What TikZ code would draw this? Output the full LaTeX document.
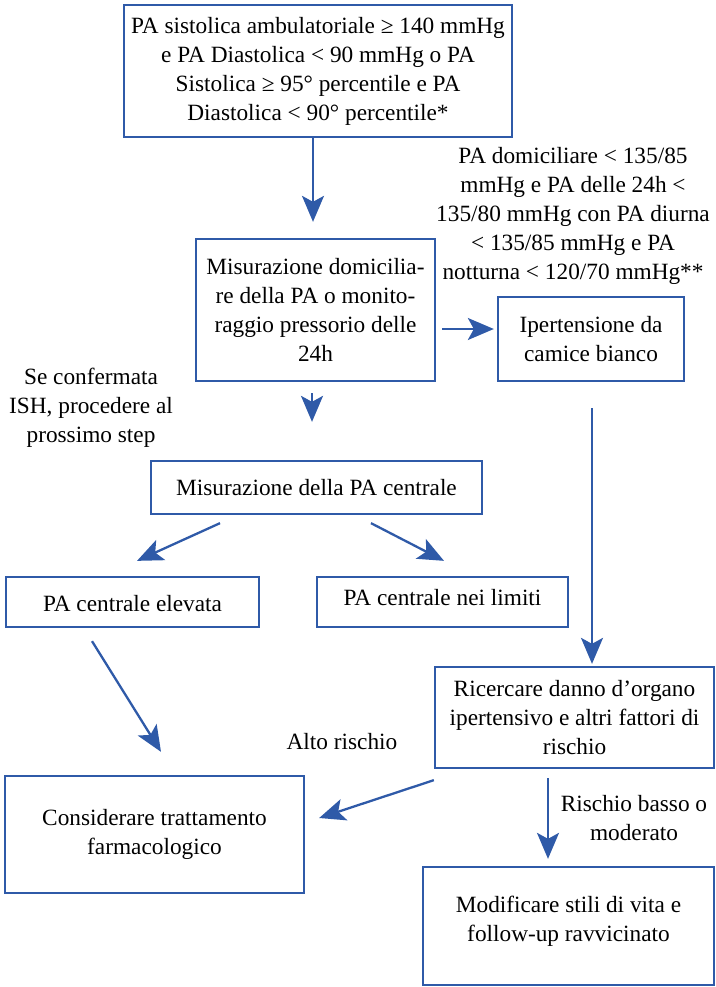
\documentclass[tikz,border=0pt]{standalone}
\usepackage{fontspec}
\setmainfont{Liberation Serif}
\usetikzlibrary{arrows.meta}
\definecolor{fcblue}{RGB}{47,90,168}
\begin{document}
\begin{tikzpicture}[x=1pt,y=-1pt,
  txt/.style={align=center,inner sep=0pt,font=\fontsize{23.3}{29}\selectfont,text=black},
  box/.style={draw=fcblue,line width=2.3pt,rectangle,inner sep=0pt,align=center,font=\fontsize{23.3}{29}\selectfont},
  arr/.style={draw=fcblue,line width=2.3pt,-{Stealth[length=26pt 0,width=22pt 0,inset=6pt 0]}}]
\useasboundingbox (0,0) rectangle (715,987);
% boxes
\node[box,minimum width=388,minimum height=132] (top) at (318,71)
  {PA sistolica ambulatoriale ≥ 140 mmHg\\e PA Diastolica < 90 mmHg o PA\\Sistolica ≥ 95° percentile e PA\\Diastolica < 90° percentile*};
\node[box,minimum width=239,minimum height=142] (mis) at (315.5,310)
  {Misurazione domicilia-\\re della PA o monito-\\raggio pressorio delle\\24h};
\node[box,minimum width=186,minimum height=84] (ipert) at (591,339)
  {Ipertensione da\\camice bianco};
\node[box,minimum width=331,minimum height=53] (misc) at (316.5,487.5)
  {Misurazione della PA centrale};
\node[box,minimum width=253,minimum height=50] (elev) at (132.5,602) {};
\node[txt] (elev-t) at (132.5,604) {PA centrale elevata};
\node[box,minimum width=251,minimum height=50] (lim) at (442.5,602) {};
\node[txt] (lim-t) at (442.5,598) {PA centrale nei limiti};
\node[box,minimum width=279,minimum height=101] (ric) at (574.5,717.5)
  {Ricercare danno d’organo\\ipertensivo e altri fattori di\\rischio};
\node[box,minimum width=299,minimum height=117] (cons) at (154.5,834.5)
  {Considerare trattamento\\farmacologico};
\node[box,minimum width=291,minimum height=118] (mod) at (568.5,926) {};
\node[txt] (mod-t) at (568.5,921) {Modificare stili di vita e\\follow-up ravvicinato};
% labels
\node[txt] (l1) at (573,216) {PA domiciliare < 135/85\\mmHg e PA delle 24h <\\135/80 mmHg con PA diurna\\< 135/85 mmHg e PA\\notturna < 120/70 mmHg**};
\node[txt] (l2) at (91,408) {Se confermata\\ISH, procedere al\\prossimo step};
\node[txt] (l3) at (342,742) {Alto rischio};
\node[txt] (l4) at (634,818) {Rischio basso o\\moderato};
% connectors
\draw[arr] ([xshift=-5]top.south) -- ([xshift=-2.5,yshift=16]mis.north);
\draw[arr] ([xshift=6,yshift=-19]mis.east) -- ([xshift=-3,yshift=10]ipert.west);
\draw[arr] ([xshift=-3.5,yshift=-11]mis.south) -- ([xshift=-4.5,yshift=38]misc.north);
\draw[arr] ([xshift=-96.5,yshift=-8]misc.south) -- ([xshift=4.5,yshift=15]elev.north);
\draw[arr] ([xshift=54.5,yshift=-8]misc.south) -- ([xshift=1.5,yshift=15]lim.north);
\draw[arr] ([xshift=-40.5,yshift=-13]elev.south) -- ([xshift=6.5,yshift=23]cons.north);
\draw[arr] ([xshift=1,yshift=-26]ipert.south) -- ([xshift=17.5,yshift=2]ric.north);
\draw[arr] ([yshift=-11]ric.south west) -- ([xshift=14,yshift=16.5]cons.east);
\draw[arr] ([xshift=-26.5,yshift=-9]ric.south) -- ([xshift=-20.5,yshift=7]mod.north);
\end{tikzpicture}
\end{document}
